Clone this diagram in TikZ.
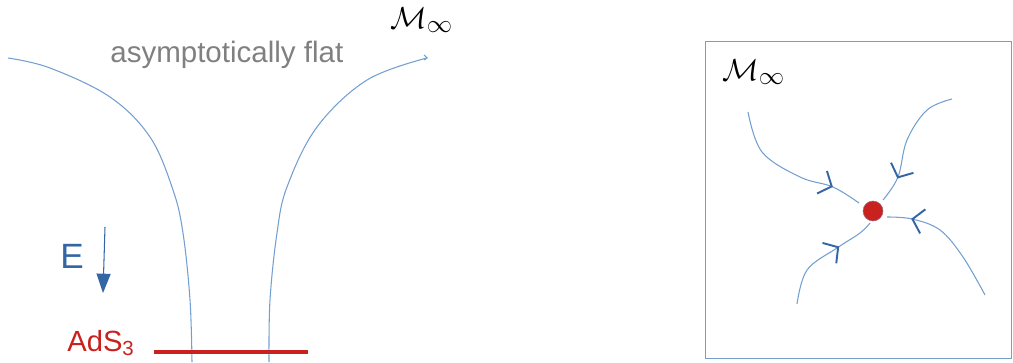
\documentclass[tikz,border=0pt]{standalone}
\usepackage{fontspec}
\setmainfont{Liberation Sans}
\usetikzlibrary{arrows.meta,decorations.markings}
\definecolor{lineblue}{HTML}{729FCF}
\definecolor{darkblue}{HTML}{3465A4}
\definecolor{adsred}{HTML}{C9211E}
\tikzset{
	flow/.style={lineblue, line width=0.6pt},
	barb/.style={postaction={decorate}, decoration={markings,
		mark=at position #1 with {\arrow[darkblue, line width=1.1pt]{Straight Barb[length=6pt, width=14pt]}}}},
	lbl/.style={inner sep=0pt, anchor=base west},
}
\begin{document}
\begin{tikzpicture}[x=0.02cm, y=-0.02cm]
		\useasboundingbox (0,0) rectangle (1013,362);

		% throat
		\draw[flow] plot[smooth, tension=0.6] coordinates {(8,58) (50,68) (110,97) (150,137) (173,190) (183,233) (190,300) (192,362)};
		\draw[flow] plot[smooth, tension=0.6] coordinates {(269,362) (270,300) (277,233) (287,187) (317,127) (367,80) (427,58)};
		\draw[flow] (424,55) -- (427,58) -- (424,60);
		\draw[adsred, line width=2.2pt] (154,352) coordinate(a1) -- (308,352) coordinate(a2);

		\node[lbl, gray] (flat) at (110,62) {\fontsize{16.8}{20}\selectfont asymptotically flat};
		\node[lbl] (minf) at (390,28) {\fontsize{19}{22}\selectfont $\mathcal{M}_\infty$};
		\node[lbl, darkblue] (E) at (60,268) {\fontsize{20}{24}\selectfont E};
		\node[lbl, adsred] (ads) at (67,351) {\fontsize{16.6}{20}\selectfont AdS\textsubscript{3}};
		\coordinate (e1) at (105,227);
		\coordinate (e2) at (103,293);
		\draw[darkblue, line width=0.6pt, -{Triangle[length=11pt, width=8pt]}] (e1) -- (e2);

		% flow to the fixed point
		\draw[lineblue, line width=0.5pt] (705,41) rectangle (1011,358);
		\node[lbl] (minf2) at (722,80) {\fontsize{19}{22}\selectfont $\mathcal{M}_\infty$};
		\node[circle, fill=adsred, draw=lineblue!60!adsred, line width=0.3pt, minimum size=20*0.02cm, inner sep=0pt] (fp) at (873,211) {};

		\draw[flow, barb=0.8] plot[smooth, tension=0.6] coordinates {(748,112) (762,152) (800,177) (833,187) (859,203)};
		\draw[flow, barb=0.8] plot[smooth, tension=0.6] coordinates {(952,99) (927,110) (907,140) (898,177) (883,200)};
		\draw[flow, barb=0.82] plot[smooth, tension=0.6] coordinates {(985,295) (963,257) (940,230) (912,219) (887,217)};
		\draw[flow, barb=0.66] plot[smooth, tension=0.6] coordinates {(797,304) (807,270) (837,248) (860,233) (870,223)};

\end{tikzpicture}
\end{document}
